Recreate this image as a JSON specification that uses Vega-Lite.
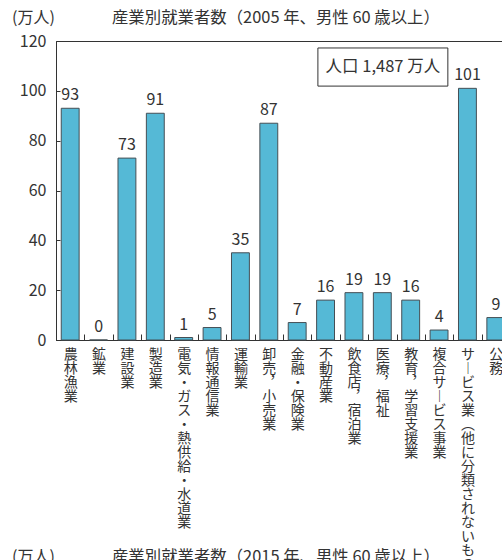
{
  "$schema": "https://vega.github.io/schema/vega-lite/v6.json",
  "autosize": {"type": "none"},
  "width": 454,
  "height": 299,
  "padding": {"left": 56, "top": 41, "right": 0, "bottom": 221},
  "config": {
    "font": "Noto Sans CJK JP",
    "view": {"stroke": "#333333", "strokeWidth": 1},
    "axis": {"domainColor": "#333333", "tickColor": "#333333", "labelColor": "#333333", "grid": false}
  },
  "data": {
    "values": [
      {"industry": "農林漁業", "workers": 93},
      {"industry": "鉱業", "workers": 0},
      {"industry": "建設業", "workers": 73},
      {"industry": "製造業", "workers": 91},
      {"industry": "電気・ガス・熱供給・水道業", "workers": 1},
      {"industry": "情報通信業", "workers": 5},
      {"industry": "運輸業", "workers": 35},
      {"industry": "卸売，小売業", "workers": 87},
      {"industry": "金融・保険業", "workers": 7},
      {"industry": "不動産業", "workers": 16},
      {"industry": "飲食店，宿泊業", "workers": 19},
      {"industry": "医療，福祉", "workers": 19},
      {"industry": "教育，学習支援業", "workers": 16},
      {"industry": "複合サービス事業", "workers": 4},
      {"industry": "サービス業(他に分類されないもの)", "workers": 101},
      {"industry": "公務", "workers": 9}
    ]
  },
  "layer": [
    {
      "layer": [
        {
          "mark": {"type": "bar", "fill": "#55b9d6", "stroke": "#454f55", "strokeWidth": 1, "width": {"band": 0.63}},
          "encoding": {
            "x": {
              "field": "industry", "type": "nominal", "sort": null,
              "scale": {"paddingInner": 0, "paddingOuter": 0},
              "axis": {
                "title": null, "tickBand": "extent", "tickSize": -6,
                "labelAngle": 0, "labelAlign": "center", "labelBaseline": "top",
                "labelExpr": "split(replace(replace(replace(replace(datum.label,'ー','︱'),'，','︐'),'(','︵'),')','︶'),'')",
                "labelLineHeight": 14, "labelFontSize": 14, "labelPadding": 13,
                "labelLimit": 0, "labelOverlap": false
              }
            },
            "y": {
              "field": "workers", "type": "quantitative",
              "scale": {"domain": [0, 120], "nice": false},
              "axis": {"title": null, "values": [0, 20, 40, 60, 80, 100, 120], "tickSize": -4, "labelPadding": 14, "labelFontSize": 16}
            }
          }
        },
        {
          "mark": {"type": "text", "baseline": "alphabetic", "dy": -8, "fontSize": 16, "color": "#333333"},
          "encoding": {
            "x": {"field": "industry", "type": "nominal", "sort": null},
            "y": {"field": "workers", "type": "quantitative"},
            "text": {"field": "workers", "type": "quantitative"}
          }
        }
      ]
    },
    {
      "data": {"values": [{}]},
      "layer": [
        {
          "mark": {"type": "rect", "fill": "white", "stroke": "#333333", "strokeWidth": 1},
          "encoding": {
            "x": {"datum": 9.23, "type": "quantitative", "scale": {"domain": [0, 16], "nice": false, "zero": false}, "axis": null},
            "x2": {"datum": 13.81},
            "y": {"datum": 101.9, "type": "quantitative"},
            "y2": {"datum": 117.2}
          }
        },
        {
          "mark": {"type": "text", "align": "center", "baseline": "middle", "fontSize": 16.5, "color": "#333333", "text": "人口 1,487 万人"},
          "encoding": {
            "x": {"datum": 11.52, "type": "quantitative"},
            "y": {"datum": 109.6, "type": "quantitative"}
          }
        },
        {
          "mark": {"type": "text", "align": "left", "baseline": "alphabetic", "fontSize": 16, "color": "#333333", "text": "(万人)"},
          "encoding": {
            "x": {"datum": -1.55, "type": "quantitative"},
            "y": {"datum": 127.2, "type": "quantitative"}
          }
        },
        {
          "mark": {"type": "text", "align": "center", "baseline": "alphabetic", "fontSize": 16.4, "color": "#333333", "text": "産業別就業者数（2005 年、男性 60 歳以上）"},
          "encoding": {
            "x": {"datum": 7.75, "type": "quantitative"},
            "y": {"datum": 127.2, "type": "quantitative"}
          }
        },
        {
          "mark": {"type": "text", "align": "left", "baseline": "alphabetic", "fontSize": 16, "color": "#333333", "text": "(万人)"},
          "encoding": {
            "x": {"datum": -1.55, "type": "quantitative"},
            "y": {"datum": -89.1, "type": "quantitative"}
          }
        },
        {
          "mark": {"type": "text", "align": "center", "baseline": "alphabetic", "fontSize": 16.4, "color": "#333333", "text": "産業別就業者数（2015 年、男性 60 歳以上）"},
          "encoding": {
            "x": {"datum": 7.75, "type": "quantitative"},
            "y": {"datum": -89.1, "type": "quantitative"}
          }
        }
      ]
    }
  ],
  "resolve": {"scale": {"x": "independent"}}
}
